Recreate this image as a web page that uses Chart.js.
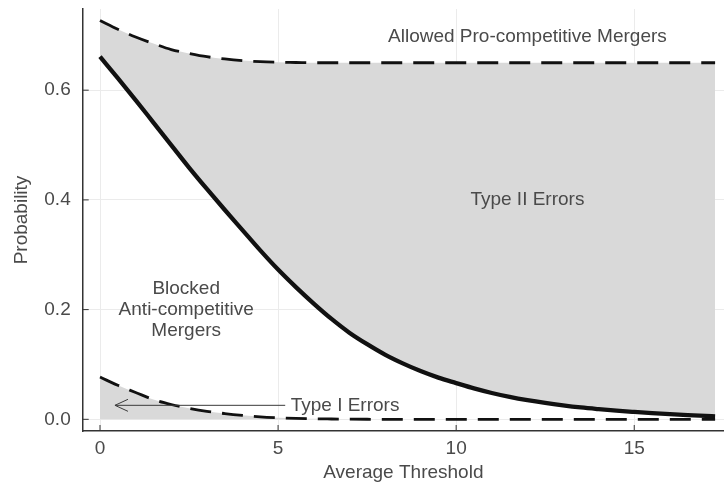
<!DOCTYPE html>
<html>
<head>
<meta charset="utf-8">
<script src="https://cdn.jsdelivr.net/npm/chart.js@4/dist/chart.umd.min.js"></script>
<style>
  html, body { margin: 0; padding: 0; background: #fff; }
  #c { display: block; }
</style>
</head>
<body>
<canvas id="c" width="724" height="487"></canvas>
<script>
// ---- data ----
const thresholds = [0, 0.5, 1, 1.5, 2, 2.5, 3, 3.5, 4, 4.5, 5, 5.5, 6, 6.5, 7, 7.5, 8, 8.5, 9, 9.5,
                    10, 10.5, 11, 11.5, 12, 12.5, 13, 13.5, 14, 14.5, 15, 15.5, 16, 16.5, 17, 17.27];
const upperBound = [0.727, 0.711, 0.697, 0.685, 0.674, 0.667, 0.661, 0.657, 0.654, 0.652, 0.651, 0.6505,
                    0.650, 0.650, 0.650, 0.650, 0.650, 0.650, 0.650, 0.650, 0.650, 0.650, 0.650, 0.650,
                    0.650, 0.650, 0.650, 0.650, 0.650, 0.650, 0.650, 0.650, 0.650, 0.650, 0.650, 0.650];
const blocked    = [0.661, 0.622, 0.582, 0.541, 0.500, 0.459, 0.420, 0.382, 0.345, 0.308, 0.273, 0.241,
                    0.211, 0.183, 0.158, 0.137, 0.118, 0.102, 0.088, 0.076, 0.066, 0.0563, 0.048, 0.0409,
                    0.0349, 0.0298, 0.0254, 0.0216, 0.0185, 0.0157, 0.0134, 0.0113, 0.0094, 0.0077, 0.0062, 0.0055];
const lowerBound = [0.077, 0.062, 0.049, 0.036, 0.027, 0.020, 0.0145, 0.0105, 0.0072, 0.0045, 0.0028, 0.0017,
                    0.001, 0.0006, 0.0003, 0.0001, 0, 0, 0, 0, 0, 0, 0, 0,
                    0, 0, 0, 0, 0, 0, 0, 0, 0, 0, 0, 0];
const xTickValues = [0, 5, 10, 15];
const yTickValues = [0.0, 0.2, 0.4, 0.6];
const xTickLabels = ['0', '5', '10', '15'];
const yTickLabels = ['0.0', '0.2', '0.4', '0.6'];

const pts = arr => thresholds.map((x, i) => ({ x: x, y: arr[i] }));

const FONT = '"Liberation Sans", Helvetica, Arial, sans-serif';
const FS = 19;
const TXT = '#4a4a4a';
const AXIS = '#333333';

const annotations = [
  { text: ['Allowed Pro-competitive Mergers'], x: 12.0, y: 0.697 },
  { text: ['Type II Errors'], x: 12.0, y: 0.400 },
  { text: ['Blocked', 'Anti-competitive', 'Mergers'], x: 2.42, y: 0.200 },
  { text: ['Type I Errors'], x: 6.88, y: 0.0255 }
];
const arrow = { from: { x: 5.2, y: 0.0255 }, to: { x: 0.42, y: 0.0255 } };

const decorPlugin = {
  id: 'decor',
  afterDatasetsDraw(chart) {
    const ctx = chart.ctx, xs = chart.scales.x, ys = chart.scales.y, ca = chart.chartArea;
    ctx.save();
    // inward tick marks
    ctx.strokeStyle = AXIS; ctx.lineWidth = 1;
    ctx.beginPath();
    xTickValues.forEach(v => { const px = xs.getPixelForValue(v); ctx.moveTo(px, ca.bottom); ctx.lineTo(px, ca.bottom - 6); });
    yTickValues.forEach(v => { const py = ys.getPixelForValue(v); ctx.moveTo(ca.left, py); ctx.lineTo(ca.left + 6, py); });
    ctx.stroke();
    // arrow
    const x1 = xs.getPixelForValue(arrow.from.x), y1 = ys.getPixelForValue(arrow.from.y);
    const x2 = xs.getPixelForValue(arrow.to.x), y2 = ys.getPixelForValue(arrow.to.y);
    ctx.strokeStyle = '#3a3a3a'; ctx.lineWidth = 1;
    ctx.beginPath();
    ctx.moveTo(x1, y1); ctx.lineTo(x2, y2);
    ctx.moveTo(x2 + 13, y2 - 6); ctx.lineTo(x2, y2); ctx.lineTo(x2 + 13, y2 + 6);
    ctx.stroke();
    // texts
    ctx.fillStyle = TXT;
    ctx.font = FS + 'px ' + FONT;
    ctx.textAlign = 'center';
    ctx.textBaseline = 'middle';
    annotations.forEach(a => {
      const cx = xs.getPixelForValue(a.x), cy = ys.getPixelForValue(a.y);
      const lh = 21;
      const n = a.text.length;
      a.text.forEach((t, i) => ctx.fillText(t, cx, cy + (i - (n - 1) / 2) * lh));
    });
    ctx.restore();
  }
};

new Chart(document.getElementById('c'), {
  type: 'line',
  data: {
    datasets: [
      { label: 'Upper', data: pts(upperBound), borderColor: '#111', borderWidth: 2.8, borderDash: [21, 11],
        pointRadius: 0, fill: false, cubicInterpolationMode: 'monotone', order: 1 },
      { label: 'Blocked', data: pts(blocked), borderColor: '#111', borderWidth: 4.3,
        pointRadius: 0, fill: { target: 0 }, backgroundColor: '#d9d9d9', cubicInterpolationMode: 'monotone', order: 0 },
      { label: 'Lower', data: pts(lowerBound), borderColor: '#111', borderWidth: 2.8, borderDash: [21, 11],
        pointRadius: 0, fill: 'origin', backgroundColor: '#d9d9d9', cubicInterpolationMode: 'monotone', order: 2 }
    ]
  },
  options: {
    responsive: false,
    maintainAspectRatio: false,
    animation: false,
    layout: { padding: { top: 9, right: 0, left: 0, bottom: 0 } },
    plugins: {
      legend: { display: false },
      tooltip: { enabled: false },
      filler: { drawTime: 'beforeDatasetsDraw' }
    },
    scales: {
      x: {
        type: 'linear', min: -0.486, max: 17.52,
        afterBuildTicks: s => { s.ticks = xTickValues.map(v => ({ value: v })); },
        afterFit: s => { s.height = 56; s.paddingLeft = 0; s.paddingRight = 0; },
        ticks: { color: TXT, font: { family: FONT, size: FS }, padding: 6,
                 callback: (v) => xTickLabels[xTickValues.indexOf(v)] },
        grid: { color: '#ebebeb', lineWidth: 1, drawTicks: false },
        border: { display: true, color: AXIS, width: 1.5 },
        title: { display: true, text: 'Average Threshold', color: TXT, font: { family: FONT, size: FS }, padding: { top: 0, bottom: 3 } }
      },
      y: {
        type: 'linear', min: -0.0213, max: 0.748,
        afterBuildTicks: s => { s.ticks = yTickValues.map(v => ({ value: v })); },
        afterFit: s => { s.width = 82.7; s.paddingTop = 0; s.paddingBottom = 0; },
        ticks: { color: TXT, font: { family: FONT, size: FS }, padding: 12,
                 callback: (v) => yTickLabels[yTickValues.indexOf(v)] },
        grid: { color: '#ebebeb', lineWidth: 1, drawTicks: false },
        border: { display: true, color: AXIS, width: 1.5 },
        title: { display: true, text: 'Probability', color: TXT, font: { family: FONT, size: FS }, padding: { top: 10, bottom: 0 } }
      }
    }
  },
  plugins: [decorPlugin]
});
</script>
</body>
</html>
